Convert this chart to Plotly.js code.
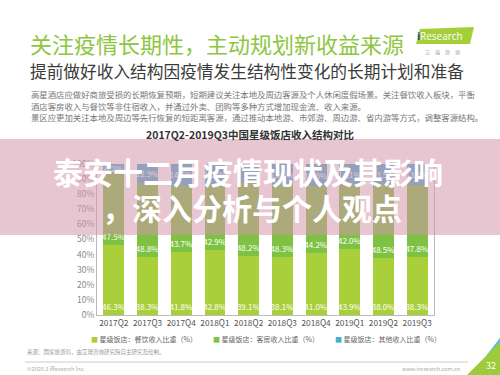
<!DOCTYPE html>
<html>
<head>
<meta charset="utf-8">
<script src="https://cdn.plot.ly/plotly-3.0.1.min.js"></script>
<style>html,body{margin:0;padding:0;background:#fff;}#chart{width:500px;height:375px;}</style>
</head>
<body>
<div id="chart"></div>
<script>
// ---- data ----
const quarters = ['2017Q2','2017Q3','2017Q4','2018Q1','2018Q2','2018Q3','2018Q4','2019Q1','2019Q2','2019Q3'];
const cateringShare = [46.3, 38.3, 41.8, 42.8, 39.1, 38.1, 41.0, 43.9, 38.0, 38.3];
const roomShare     = [47.5, 48.8, 43.7, 42.9, 48.2, 48.3, 44.2, 42.0, 48.5, 47.8];
const otherShare    = [6.2, 12.9, 14.5, 14.3, 12.7, 13.6, 14.8, 14.1, 13.5, 13.9];
const seriesNames = ['星级饭店：餐饮收入比重（%）','星级饭店：客房收入比重（%）','星级饭店：其他收入比重（%）'];
const yTicks = [0,10,20,30,40,50,60,70,80,90,100];

// ---- layout helpers (pixel -> paper) ----
const L = 97, R = 434, T = 164, B = 315;
const px = x => (x - L) / (R - L);
const py = y => (B - y) / (B - T);
const FONT = '"Noto Sans CJK SC", "Noto Sans", sans-serif';

const colors = ['#a9cf3a', '#7dc242', '#4aaed0'];

function barTrace(vals, i, anchor) {
  return {
    type: 'bar', x: quarters, y: vals, name: seriesNames[i],
    marker: {color: colors[i]},
    texttemplate: '%{y:.1f}%', textposition: 'inside', insidetextanchor: anchor,
    textangle: 0, constraintext: 'none', cliponaxis: false,
    textfont: {color: '#ffffff', size: 8, family: FONT},
    hoverinfo: 'skip', showlegend: false
  };
}
const data = [
  barTrace(cateringShare, 0, 'start'),
  barTrace(roomShare, 1, 'start'),
  barTrace(otherShare, 2, 'middle')
];

function ann(x, y, text, opts) {
  return Object.assign({xref: 'paper', yref: 'paper', x: px(x), y: py(y), text: text,
    showarrow: false, xanchor: 'left', yanchor: 'middle',
    font: {family: FONT, size: 9, color: '#666'}}, opts || {});
}

const annotations = [
  ann(28, 43, '关注疫情长期性，主动规划新收益来源', {font: {family: FONT, size: 22, color: '#8dc63f'}}),
  ann(28, 71, '提前做好收入结构因疫情发生结构性变化的长期计划和准备', {font: {family: FONT, size: 16.7, color: '#3a3a3a'}}),
  ann(29, 94, '高星酒店应做好商旅受损的长期恢复预期，短期建议关注本地及周边客源及个人休闲度假场景。关注餐饮收入板块，平衡', {font: {family: FONT, size: 8.4, color: '#777'}}),
  ann(29, 106, '酒店客房收入与餐饮等非住宿收入，并通过外卖、团购等多种方式增加现金流、收入来源。', {font: {family: FONT, size: 8.4, color: '#777'}}),
  ann(29, 117, '景区应更加关注本地及周边等先行恢复的短距离客源，通过推动本地游、市郊游、周边游、省内游等方式，调整客源结构。', {font: {family: FONT, size: 8.4, color: '#777'}}),
  ann(250, 134, '<b>2017Q2-2019Q3中国星级饭店收入结构对比</b>', {xanchor: 'center', font: {family: FONT, size: 10.5, color: '#333'}}),
  // logo
  ann(441, 36, 'Research', {xanchor: 'center', font: {family: 'Open Sans, sans-serif', size: 10, color: '#ffffff'}}),
  ann(418, 36, '<b>i</b>', {xanchor: 'center', font: {family: 'Open Sans, sans-serif', size: 11, color: '#1d4f91'}}),
  ann(442, 52, '艾　瑞　咨　询', {xanchor: 'center', font: {family: FONT, size: 5, color: '#999'}}),
  // overlay headline
  ann(248, 171, '<b>泰安十二月疫情现状及其影响</b>', {xanchor: 'center', font: {family: FONT, size: 30, color: '#ffffff'}}),
  ann(252, 207, '<b>，深入分析与个人观点</b>', {xanchor: 'center', font: {family: FONT, size: 30, color: '#ffffff'}}),
  // legend
  ann(89, 339, '<span style="color:' + colors[0] + '">■</span> ' + seriesNames[0], {font: {family: FONT, size: 7, color: '#666'}}),
  ann(211, 339, '<span style="color:' + colors[1] + '">■</span> ' + seriesNames[1], {font: {family: FONT, size: 7, color: '#666'}}),
  ann(333, 339, '<span style="color:' + colors[2] + '">■</span> ' + seriesNames[2], {font: {family: FONT, size: 7, color: '#666'}}),
  // source & footer
  ann(25, 352, '来源：国家旅游局，由艾瑞咨询研究院自主研究及绘制。', {font: {family: FONT, size: 5.5, color: '#999'}}),
  ann(25, 369, '©2020.3 iResearch Inc.', {font: {family: FONT, size: 5.5, color: '#aaa'}}),
  ann(462, 369, 'www.iresearch.com.cn', {xanchor: 'right', font: {family: FONT, size: 5.5, color: '#aaa'}}),
  ann(491, 365, '32', {xanchor: 'center', font: {family: FONT, size: 9, color: '#ffffff'}})
];

function poly(points, fill, layer) {
  const d = 'M ' + points.map(p => px(p[0]) + ',' + py(p[1])).join(' L ') + ' Z';
  return {type: 'path', xref: 'paper', yref: 'paper', path: d, fillcolor: fill, line: {width: 0}, layer: layer || 'above'};
}

const shapes = [
  // pink overlay band
  {type: 'rect', xref: 'paper', yref: 'paper', x0: px(0), x1: px(500), y0: py(235), y1: py(139),
   fillcolor: 'rgba(212,150,172,0.55)', line: {width: 0}, layer: 'above'},
  // logo parallelogram
  poly([[416, 44], [420, 29], [474, 27], [470, 44]], '#a6ce39'),
  // footer line
  {type: 'line', xref: 'paper', yref: 'paper', x0: px(25), x1: px(468), y0: py(362), y1: py(362),
   line: {color: '#cccccc', width: 1}, layer: 'above'},
  // corner decoration
  poly([[486, 356], [500, 338], [500, 349]], '#4fc0dc'),
  poly([[467, 375], [500, 342], [500, 375]], '#9dcb3b')
];

const layout = {
  width: 500, height: 375,
  margin: {l: L, r: 500 - R, t: T, b: 375 - B, pad: 0},
  paper_bgcolor: '#ffffff', plot_bgcolor: '#ffffff',
  barmode: 'stack', bargap: 0.38,
  font: {family: FONT},
  xaxis: {type: 'category', showline: true, linecolor: '#bbbbbb', linewidth: 1, ticks: '',
          tickfont: {size: 8.3, color: '#555'}, fixedrange: true, showgrid: false},
  yaxis: {range: [0, 100], tickvals: yTicks, ticktext: yTicks.map(v => v + '%'),
          showline: true, mirror: true, linecolor: '#bbbbbb', linewidth: 1, ticks: '',
          showgrid: false, zeroline: false, tickfont: {size: 8.5, color: '#888'}, fixedrange: true},
  showlegend: false,
  annotations: annotations,
  shapes: shapes
};

Plotly.newPlot('chart', data, layout, {staticPlot: true, displayModeBar: false});
</script>
</body>
</html>
